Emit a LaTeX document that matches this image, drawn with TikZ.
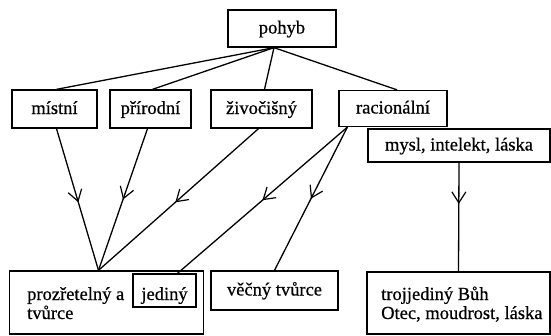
\documentclass[tikz,border=0pt]{standalone}
\usepackage{fontspec}
\setmainfont{Liberation Serif}[FakeBold=0.6]
\usetikzlibrary{arrows.meta,decorations.markings}
\tikzset{
  box/.style={draw, line width=1.3pt, inner sep=2pt, text height=13pt, text depth=3pt},
  plainbox/.style={draw, line width=1.3pt},
  txt/.style={inner sep=0pt, anchor=base west},
  conn/.style={line width=1.3pt},
  midarrow/.style={postaction={decorate}, decoration={markings,
      mark=at position #1 with {\arrow{Straight Barb[length=11pt,width=14pt,line width=1.2pt]}}}}
}
\begin{document}
\begin{tikzpicture}[x=1pt, y=-1pt, font=\fontsize{18.5}{16}\selectfont]
\useasboundingbox (0,0) rectangle (551,335);
% boxes
\node[box, minimum width=108pt, minimum height=37pt] (pohyb) at (282,28.5) {pohyb};
\node[box, minimum width=85pt, minimum height=38pt] (mistni) at (54.5,109) {místní};
\node[box, minimum width=81pt, minimum height=38pt] (prirodni) at (150.5,109) {přírodní};
\node[box, minimum width=101pt, minimum height=38pt] (zivocisny) at (261.5,109) {živočišný};
\node[box, minimum width=108pt, minimum height=36pt] (racionalni) at (393,108.5) {racionální};
\node[box, minimum width=182pt, minimum height=33pt] (mysl) at (459,145.5) {mysl, intelekt, láska};
\node[plainbox, minimum width=194pt, minimum height=63pt] (prozr) at (106.5,302.5) {};
\node[box, minimum width=63pt, minimum height=33pt, text height=21pt, text depth=2pt] (jediny) at (164.5,290.5) {jediný};
\node[box, minimum width=127pt, minimum height=39pt] (vecny) at (274.5,290.5) {věčný tvůrce};
\node[plainbox, minimum width=183pt, minimum height=62pt] (trojj) at (458.5,303) {};
% texts in the two-line boxes
\node[txt] (p1) at (27,300) {prozřetelný a};
\node[txt] (p2) at (27,319) {tvůrce};
\node[txt] (t1) at (381,300) {trojjediný Bůh};
\node[txt] (t2) at (381,319) {Otec, moudrost, láska};
% connectors from pohyb
\coordinate (pb) at ([xshift=-8pt]pohyb.south);
\draw[conn] (pb) -- ([xshift=2pt]mistni.north);
\draw[conn] (pb) -- ([xshift=2pt]prirodni.north);
\draw[conn] (pb) -- ([xshift=3pt]zivocisny.north);
\draw[conn] (pb) -- ([xshift=4pt]racionalni.north);
% arrows down
\coordinate (pt) at ([xshift=-8pt]prozr.north);
\draw[conn, midarrow=0.52] ([xshift=2pt]mistni.south) -- (pt);
\draw[conn, midarrow=0.5] ([xshift=-3pt]prirodni.south) -- (pt);
\draw[conn, midarrow=0.52] ([xshift=-3pt]zivocisny.south) -- (pt);
\coordinate (rb) at ([xshift=9pt]racionalni.south west);
\draw[conn, midarrow=0.5] (rb) -- ([xshift=13pt]jediny.north);
\draw[conn, midarrow=0.5] (rb) -- (vecny.north);
\draw[conn, midarrow=0.38] (mysl.south) -- (trojj.north);
\end{tikzpicture}
\end{document}
